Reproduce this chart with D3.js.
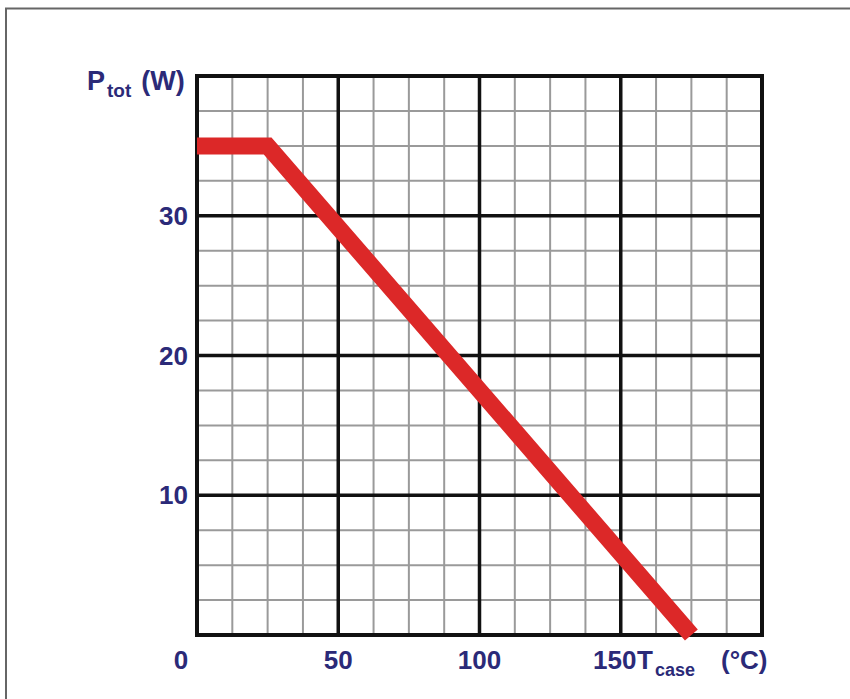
<!DOCTYPE html>
<html>
<head>
<meta charset="utf-8">
<script src="https://cdn.jsdelivr.net/npm/d3@7"></script>
<style>
  body { margin: 0; background: #fff; }
  text { font-family: "Liberation Sans", Arial, sans-serif; font-weight: bold; fill: #2b2a78; }
</style>
</head>
<body>
<div id="chart"></div>
<script>
// derating curve: case temperature vs total power
var tempPoints = [0, 25, 175];
var powerPoints = [35, 35, 0];
var xTicks = [0, 50, 100, 150];
var yTicks = [10, 20, 30];
var xMajor = [50, 100, 150];
var yMajor = [10, 20, 30];

var W = 850, H = 699;
var margin = {top: 76, right: 88, bottom: 64, left: 197};
var width = 762 - margin.left,
    height = 635 - margin.top;

var svg = d3.select("#chart").append("svg")
    .attr("width", W)
    .attr("height", H);

// outer frame (runs off the right and bottom edges)
svg.append("path")
    .attr("d", "M6,900 L6,8.5 L900,8.5")
    .attr("fill", "none")
    .attr("stroke", "#666")
    .attr("stroke-width", 2);

var g = svg.append("g")
    .attr("transform", "translate(" + margin.left + "," + margin.top + ")");

var x = d3.scaleLinear().domain([0, 200]).range([0, width]);
var y = d3.scaleLinear().domain([0, 40]).range([height, 0]);

// minor grid
g.append("g").selectAll("line")
    .data(d3.range(12.5, 200, 12.5))
    .enter().append("line")
    .attr("x1", function(d){ return x(d); })
    .attr("x2", function(d){ return x(d); })
    .attr("y1", 0).attr("y2", height)
    .attr("stroke", "#9a9a9a").attr("stroke-width", 2);

g.append("g").selectAll("line")
    .data(d3.range(2.5, 40, 2.5))
    .enter().append("line")
    .attr("y1", function(d){ return y(d); })
    .attr("y2", function(d){ return y(d); })
    .attr("x1", 0).attr("x2", width)
    .attr("stroke", "#9a9a9a").attr("stroke-width", 2);

// major grid
g.append("g").selectAll("line")
    .data(xMajor)
    .enter().append("line")
    .attr("x1", function(d){ return x(d); })
    .attr("x2", function(d){ return x(d); })
    .attr("y1", 0).attr("y2", height)
    .attr("stroke", "#111").attr("stroke-width", 3.5);

g.append("g").selectAll("line")
    .data(yMajor)
    .enter().append("line")
    .attr("y1", function(d){ return y(d); })
    .attr("y2", function(d){ return y(d); })
    .attr("x1", 0).attr("x2", width)
    .attr("stroke", "#111").attr("stroke-width", 3.5);

// plot border
g.append("rect")
    .attr("width", width).attr("height", height)
    .attr("fill", "none")
    .attr("stroke", "#111").attr("stroke-width", 4);

// the curve
var line = d3.line()
    .x(function(d){ return x(d[0]); })
    .y(function(d){ return y(d[1]); });

g.append("path")
    .datum(d3.zip(tempPoints, powerPoints))
    .attr("d", line)
    .attr("fill", "none")
    .attr("stroke", "#dc2828")
    .attr("stroke-width", 17)
    .attr("stroke-linejoin", "miter");

// tick labels
g.selectAll(".ylab")
    .data(yTicks)
    .enter().append("text")
    .attr("class", "ylab")
    .attr("x", -9)
    .attr("y", function(d){ return y(d) + 9; })
    .attr("text-anchor", "end")
    .style("font-size", "26px")
    .text(function(d){ return d; });

// 0 sits left of the axis and 150 is pushed left to make room for T_case
var xShift = {0: -16, 150: -6};
g.selectAll(".xlab")
    .data(xTicks)
    .enter().append("text")
    .attr("class", "xlab")
    .attr("x", function(d){ return x(d) + (xShift[d] || 0); })
    .attr("y", height + 34)
    .attr("text-anchor", "middle")
    .style("font-size", "26px")
    .text(function(d){ return d; });

// axis titles
var xt = svg.append("text")
    .attr("x", 637).attr("y", margin.top + height + 34)
    .style("font-size", "26px");
xt.append("tspan").text("T");
xt.append("tspan").attr("dx", 2).attr("dy", 7).style("font-size", "18px").text("case");

svg.append("text")
    .attr("x", 721).attr("y", margin.top + height + 34)
    .style("font-size", "26px")
    .text("(°C)");

var yt = svg.append("text")
    .attr("x", 87).attr("y", 90)
    .style("font-size", "27px");
yt.append("tspan").text("P");
yt.append("tspan").attr("dx", 2).attr("dy", 7).style("font-size", "19px").text("tot");
yt.append("tspan").attr("dx", 10).attr("dy", -7).text("(W)");
</script>
</body>
</html>
